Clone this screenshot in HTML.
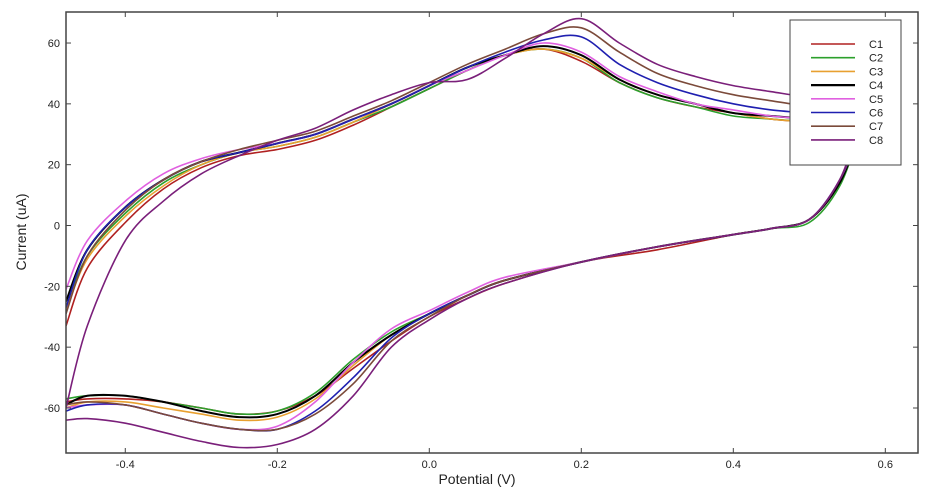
<!DOCTYPE html>
<html><head><meta charset="utf-8"><style>
body{margin:0;background:#fff;}
svg{display:block;font-family:"Liberation Sans",sans-serif;}
</style></head><body>
<svg id="chart" width="926" height="492"></svg>
<script>
const xTicks=[-0.4,-0.2,0.0,0.2,0.4,0.6];
const xTickLabels=["-0.4","-0.2","0.0","0.2","0.4","0.6"];
const yTicks=[-60,-40,-20,0,20,40,60];
const yTickLabels=["-60","-40","-20","0","20","40","60"];
const seriesNames=["C1","C2","C3","C4","C5","C6","C7","C8"];
const seriesColors=["#b02020","#2ca02c","#e8a030","#000000","#e060e0","#1f1fb0","#7b4a3a","#7a1f7a"];
const upPot=[-0.478,-0.45,-0.4,-0.35,-0.3,-0.25,-0.2,-0.15,-0.1,-0.05,0,0.05,0.1,0.15,0.2,0.25,0.3,0.35,0.4,0.45,0.5,0.54,0.565];
const upC1=[-33,-14,1,12,19,23,25,28,33,39,45,51,56,58,54,47,42,39,37,35,34,33,30];
const upC2=[-27,-10,4,14,20,24,26,29,34,39,45,51,56,58,55,47,42,39,36,35,34,33,30];
const upC3=[-28,-11,3,13,20,24,26,29,34,40,46,52,56,58,55,48,43,40,37,35,34,33,30];
const upC4=[-25,-8,6,15,21,24,27,30,35,40,46,52,56,59,56,48,43,40,37,36,35,34,30];
const upC5=[-21,-5,8,17,22,25,27,30,35,40,46,51,56,60,57,49,44,40,38,36,35,34,30];
const upC6=[-27,-8,6,15,21,24,27,30,35,40,46,52,57,61,62,53,47,43,40,38,37,36,31];
const upC7=[-29,-10,5,15,21,25,28,31,36,41,47,53,58,63,65,57,50,46,43,41,39,37,32];
const upC8=[-60,-33,-5,8,17,23,28,32,38,43,47,48,55,63,68,60,53,49,46,44,42,40,33];
const lowPot=[-0.478,-0.45,-0.4,-0.35,-0.3,-0.25,-0.2,-0.15,-0.1,-0.05,0,0.05,0.1,0.2,0.3,0.4,0.45,0.5,0.54,0.565];
const lowC1=[-58,-57,-57,-58,-60,-62,-61,-56,-47,-38,-30,-24,-19,-12,-8,-3,-1,2,14,30];
const lowC2=[-57,-56,-56,-58,-60,-62,-61,-55,-44,-35,-29,-23,-18,-12,-7,-3,-1,1,13,30];
const lowC3=[-60,-58,-58,-60,-62,-64,-63,-57,-46,-36,-29,-23,-18,-12,-7,-3,-1,2,14,30];
const lowC4=[-59,-56,-56,-58,-61,-63,-62,-56,-45,-36,-29,-23,-18,-12,-7,-3,-1,2,14,30];
const lowC5=[-60,-59,-59,-62,-65,-67,-66,-58,-45,-34,-28,-22,-17,-12,-7,-3,-1,2,15,30];
const lowC6=[-61,-59,-59,-62,-65,-67,-67,-61,-50,-37,-29,-23,-18,-12,-7,-3,-1,2,15,31];
const lowC7=[-59,-58,-59,-62,-65,-67,-67,-62,-52,-38,-30,-23,-18,-12,-7,-3,-1,2,15,32];
const lowC8=[-64,-63.5,-65,-68,-71,-73,-72,-67,-56,-40,-31,-24,-19,-12,-7,-3,-1,2,15,33];
const upAll=[upC1,upC2,upC3,upC4,upC5,upC6,upC7,upC8];
const lowAll=[lowC1,lowC2,lowC3,lowC4,lowC5,lowC6,lowC7,lowC8];

const L=66,R=918,T=12,B=453;
const xMin=-0.478,xMax=0.643,yMin=-74.8,yMax=70.2;
function sx(v){return L+(v-xMin)/(xMax-xMin)*(R-L);}
function sy(v){return B-(v-yMin)/(yMax-yMin)*(B-T);}
const NS="http://www.w3.org/2000/svg";
const svg=document.getElementById('chart');
function mk(tag,attrs,parent){const e=document.createElementNS(NS,tag);for(const k in attrs)e.setAttribute(k,attrs[k]);(parent||svg).appendChild(e);return e;}
function smooth(pts){
  let d="M"+pts[0][0].toFixed(1)+","+pts[0][1].toFixed(1);
  for(let i=0;i<pts.length-1;i++){
    const p0=pts[i-1]||pts[i],p1=pts[i],p2=pts[i+1],p3=pts[i+2]||p2;
    const c1=[p1[0]+(p2[0]-p0[0])/6,p1[1]+(p2[1]-p0[1])/6];
    const c2=[p2[0]-(p3[0]-p1[0])/6,p2[1]-(p3[1]-p1[1])/6];
    d+=" C"+c1[0].toFixed(1)+","+c1[1].toFixed(1)+" "+c2[0].toFixed(1)+","+c2[1].toFixed(1)+" "+p2[0].toFixed(1)+","+p2[1].toFixed(1);
  }
  return d;
}
const clip=mk('clipPath',{id:'pc'});mk('rect',{x:L,y:T,width:R-L,height:B-T},clip);
const g=mk('g',{'clip-path':'url(#pc)'});


for(let s=0;s<8;s++){
  const up=upPot.map((p,i)=>[sx(p),sy(upAll[s][i])]);
  const low=lowPot.map((p,i)=>[sx(p),sy(lowAll[s][i])]);
  const lowRev=low.slice().reverse();
  const path=mk('path',{d:smooth(up)+" "+smooth(lowRev).replace(/^M/,"L"),fill:'none',stroke:seriesColors[s],'stroke-width':s===3?2:1.6},g);
  
  
}
const frame=mk('rect',{x:L,y:T,width:R-L,height:B-T,fill:'none',stroke:'#444','stroke-width':1.5});


xTicks.forEach((t,i)=>{
  const x=sx(t);
  mk('line',{x1:x,x2:x,y1:B,y2:B-5,stroke:'#444'});
  mk('line',{x1:x,x2:x,y1:T,y2:T+5,stroke:'#444'});
  const tx=mk('text',{x:x,y:B+15,'text-anchor':'middle','font-size':11,fill:'#222'});
  tx.textContent=xTickLabels[i];
  
  
});
yTicks.forEach((t,i)=>{
  const y=sy(t);
  mk('line',{x1:L,x2:L+5,y1:y,y2:y,stroke:'#444'});
  mk('line',{x1:R,x2:R-5,y1:y,y2:y,stroke:'#444'});
  const tx=mk('text',{x:L-6,y:y+4,'text-anchor':'end','font-size':11,fill:'#222'});
  tx.textContent=yTickLabels[i];
  
  
});
const xt=mk('text',{x:(L+R)/2-15,y:484,'text-anchor':'middle','font-size':14,fill:'#222'});
xt.textContent="Potential (V)";


const yt=mk('text',{x:0,y:0,'text-anchor':'middle','font-size':14,fill:'#222',transform:'translate(26,232) rotate(-90)'});
yt.textContent="Current (uA)";


const leg=mk('g',{});


mk('rect',{x:790,y:20,width:111,height:145,fill:'#fff',stroke:'#444','stroke-width':1},leg);
seriesNames.forEach((n,i)=>{
  const y=44+i*13.7;
  const ln=mk('line',{x1:811,x2:855,y1:y,y2:y,stroke:seriesColors[i],'stroke-width':i===3?2.2:1.6},leg);
  
  
  const tx=mk('text',{x:869,y:y+4,'font-size':11,fill:'#222'},leg);
  tx.textContent=n;
  
  
});
</script>
</body></html>
